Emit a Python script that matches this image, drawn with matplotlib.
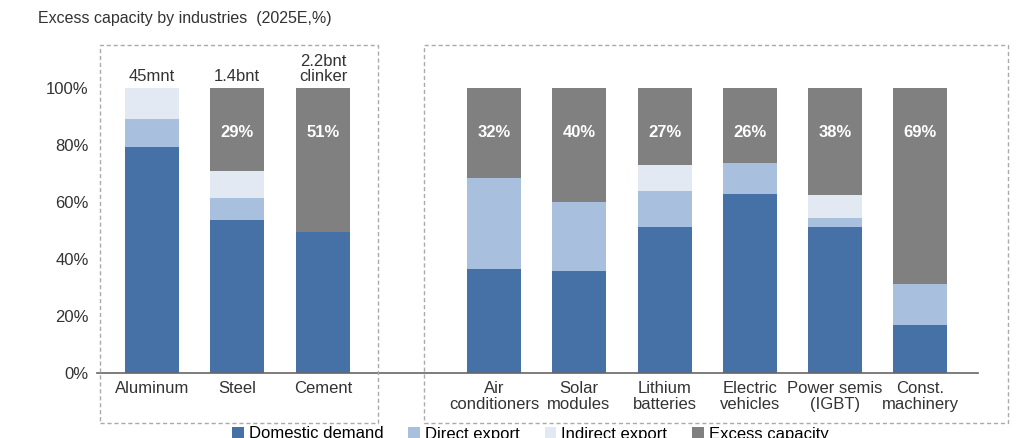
import matplotlib
matplotlib.use("Agg")
import matplotlib.pyplot as plt
from matplotlib.patches import Rectangle

plt.rcParams['font.family'] = ['Liberation Sans', 'DejaVu Sans']

categories = ["Aluminum", "Steel", "Cement", "Air\nconditioners", "Solar\nmodules",
              "Lithium\nbatteries", "Electric\nvehicles", "Power semis\n(IGBT)", "Const.\nmachinery"]
domestic = [79.3, 53.7, 49.5, 36.5, 35.8, 51.2, 62.8, 51.2, 16.8]
direct   = [9.8, 7.7, 0.0, 31.9, 24.2, 12.7, 10.9, 3.2, 14.4]
indirect = [10.9, 9.5, 0.0, 0.0, 0.0, 9.1, 0.0, 8.1, 0.0]
excess   = [0.0, 29.1, 50.5, 31.6, 40.0, 27.0, 26.3, 37.5, 68.8]
excess_labels = ["", "29%", "51%", "32%", "40%", "27%", "26%", "38%", "69%"]
top_labels = ["45mnt", "1.4bnt", "2.2bnt\nclinker", "", "", "", "", "", ""]
series_names = ["Domestic demand", "Direct export", "Indirect export", "Excess capacity"]
colors = ["#4671A7", "#A8C0DD", "#E2E9F3", "#808080"]

xpos = [152, 237, 323, 494, 579, 665, 750, 835, 920]

W, H = 1030, 438
fig = plt.figure(figsize=(W/100, H/100), dpi=100)
ax = fig.add_axes([97/W, (H-373)/H, (978-97)/W, (373-88)/H])
ax.set_xlim(97, 978)
ax.set_ylim(0, 100)

bottom = [0]*len(xpos)
for vals, c, name in zip([domestic, direct, indirect, excess], colors, series_names):
    ax.bar(xpos, vals, width=54, bottom=bottom, color=c, label=name)
    bottom = [b+v for b, v in zip(bottom, vals)]

for x, lab in zip(xpos, excess_labels):
    if lab:
        ax.text(x, 84.5, lab, ha='center', va='center', color='white', fontsize=12, fontweight='bold')
for x, lab in zip(xpos, top_labels):
    if lab:
        ax.text(x, 101.5, lab, ha='center', va='bottom', fontsize=12, color='#333333', linespacing=1.0)

ax.set_yticks(range(0, 101, 20))
ax.set_yticklabels([f"{v}%" for v in range(0, 101, 20)], fontsize=12, color='#333333')
ax.set_xticks(xpos)
ax.set_xticklabels(categories, fontsize=12, color='#333333', linespacing=1.05)
ax.tick_params(axis='both', length=0, pad=6)
for s in ['top', 'right', 'left']:
    ax.spines[s].set_visible(False)
ax.spines['bottom'].set_color('#666666')
ax.spines['bottom'].set_linewidth(1.2)

for (x0, x1) in [(100, 378), (424, 1008)]:
    fig.add_artist(Rectangle((x0/W, (H-423)/H), (x1-x0)/W, (423-45)/H, transform=fig.transFigure,
                             fill=False, ls=(0, (3, 2)), ec='#AAAAAA', lw=1))

fig.text(38/W, (H-19)/H, "Excess capacity by industries  (2025E,%)", fontsize=11.5, va='center', color='#333333')

fig.legend(loc='center', bbox_to_anchor=(0.515, (H-434)/H), ncol=4, frameon=False,
           fontsize=12, handlelength=0.7, handleheight=0.7, columnspacing=1.5, handletextpad=0.3,
           borderpad=0, borderaxespad=0)

fig.savefig("out.png", dpi=100)
